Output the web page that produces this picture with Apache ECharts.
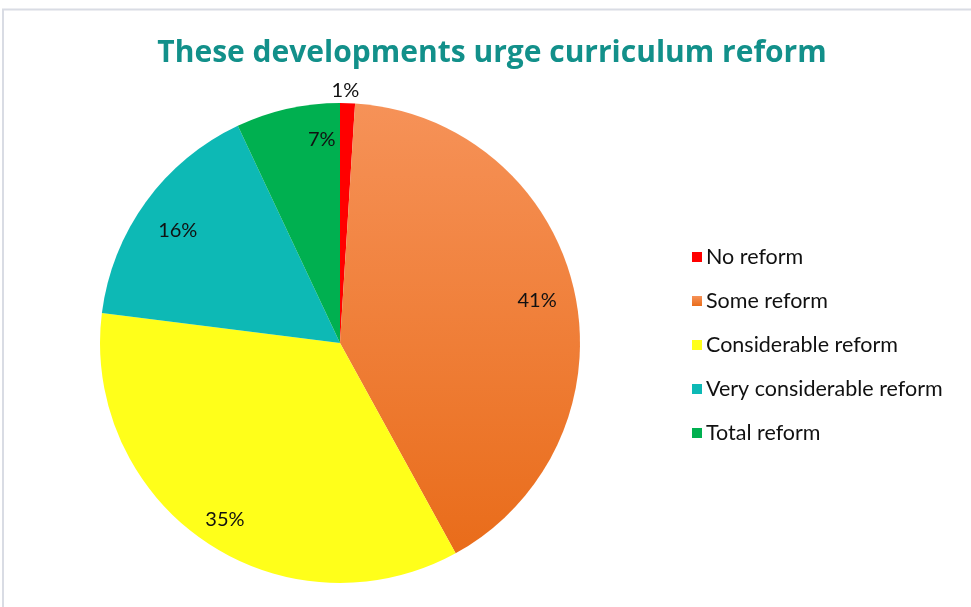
<!DOCTYPE html>
<html>
<head>
<meta charset="utf-8">
<script src="https://cdn.jsdelivr.net/npm/echarts@6/dist/echarts.min.js"></script>
<style>
  html, body { margin: 0; padding: 0; background: #ffffff; }
  #chart { width: 971px; height: 607px; }
</style>
</head>
<body>
<div id="chart"></div>
<script>
// Survey answers, shares in percent
const categories = ['No reform', 'Some reform', 'Considerable reform', 'Very considerable reform', 'Total reform'];
const shares = [1, 41, 35, 16, 7];
const chartTitle = 'These developments urge curriculum reform';

const sliceColors = [
  '#FF0000',
  { type: 'linear', x: 0, y: 0, x2: 0, y2: 1, colorStops: [
      { offset: 0, color: '#F69258' }, { offset: 1, color: '#E96C1A' } ] },
  '#FFFF1A',
  '#0DB9B5',
  '#00B050'
];

const pieData = categories.map((name, i) => ({
  name: name,
  value: shares[i],
  itemStyle: { color: sliceColors[i] }
}));

const labelData = categories.map((name, i) => ({
  name: name,
  value: shares[i]
}));

const center = [340, 343];
const R = 240;

const chart = echarts.init(document.getElementById('chart'), null, { renderer: 'canvas' });
chart.setOption({
  backgroundColor: '#ffffff',
  animation: false,
  title: {
    text: chartTitle,
    left: 487,
    textAlign: 'center',
    top: 33,
    textStyle: {
      fontFamily: 'Open Sans',
      fontWeight: 'bold',
      fontSize: 30,
      color: '#12908A'
    }
  },
  legend: {
    orient: 'vertical',
    left: 687,
    top: 241,
    itemWidth: 10,
    itemHeight: 10,
    itemGap: 22,
    icon: 'rect',
    selectedMode: false,
    data: categories,
    textStyle: {
      fontFamily: 'Lato',
      fontSize: 21.5,
      lineHeight: 22,
      color: '#111111',
      padding: [0, 0, 0, -1]
    }
  },
  graphic: [{
    type: 'polyline',
    silent: true,
    shape: { points: [[3, 620], [3, 9.5], [990, 9.5]] },
    style: { stroke: '#D9DCE4', lineWidth: 2, fill: null }
  }],
  series: [
    {
      type: 'pie',
      center: center,
      radius: [0, R],
      startAngle: 90,
      clockwise: true,
      silent: true,
      label: { show: false },
      labelLine: { show: false },
      itemStyle: { borderWidth: 0 },
      data: pieData
    },
    {
      // transparent ring carrying the percentage labels
      type: 'pie',
      center: center,
      radius: [160, R],
      startAngle: 90,
      clockwise: true,
      silent: true,
      legendHoverLink: false,
      itemStyle: { color: 'rgba(0,0,0,0)' },
      label: {
        show: true,
        position: 'inside',
        formatter: p => p.value + '%',
        fontFamily: 'Lato',
        fontSize: 20,
        color: '#111111'
      },
      labelLine: { show: false },
      labelLayout: function (p) {
        if (p.dataIndex === 0) return { dx: -1, dy: -50 };
        if (p.dataIndex === 1) return { dx: -1, dy: 2 };
        if (p.dataIndex === 2) return { dx: -1, dy: 9 };
        if (p.dataIndex === 3) return { dx: 2, dy: 7 };
        if (p.dataIndex === 4) return { dx: 26, dy: -5 };
        return {};
      },
      data: labelData
    }
  ]
});
</script>
</body>
</html>
